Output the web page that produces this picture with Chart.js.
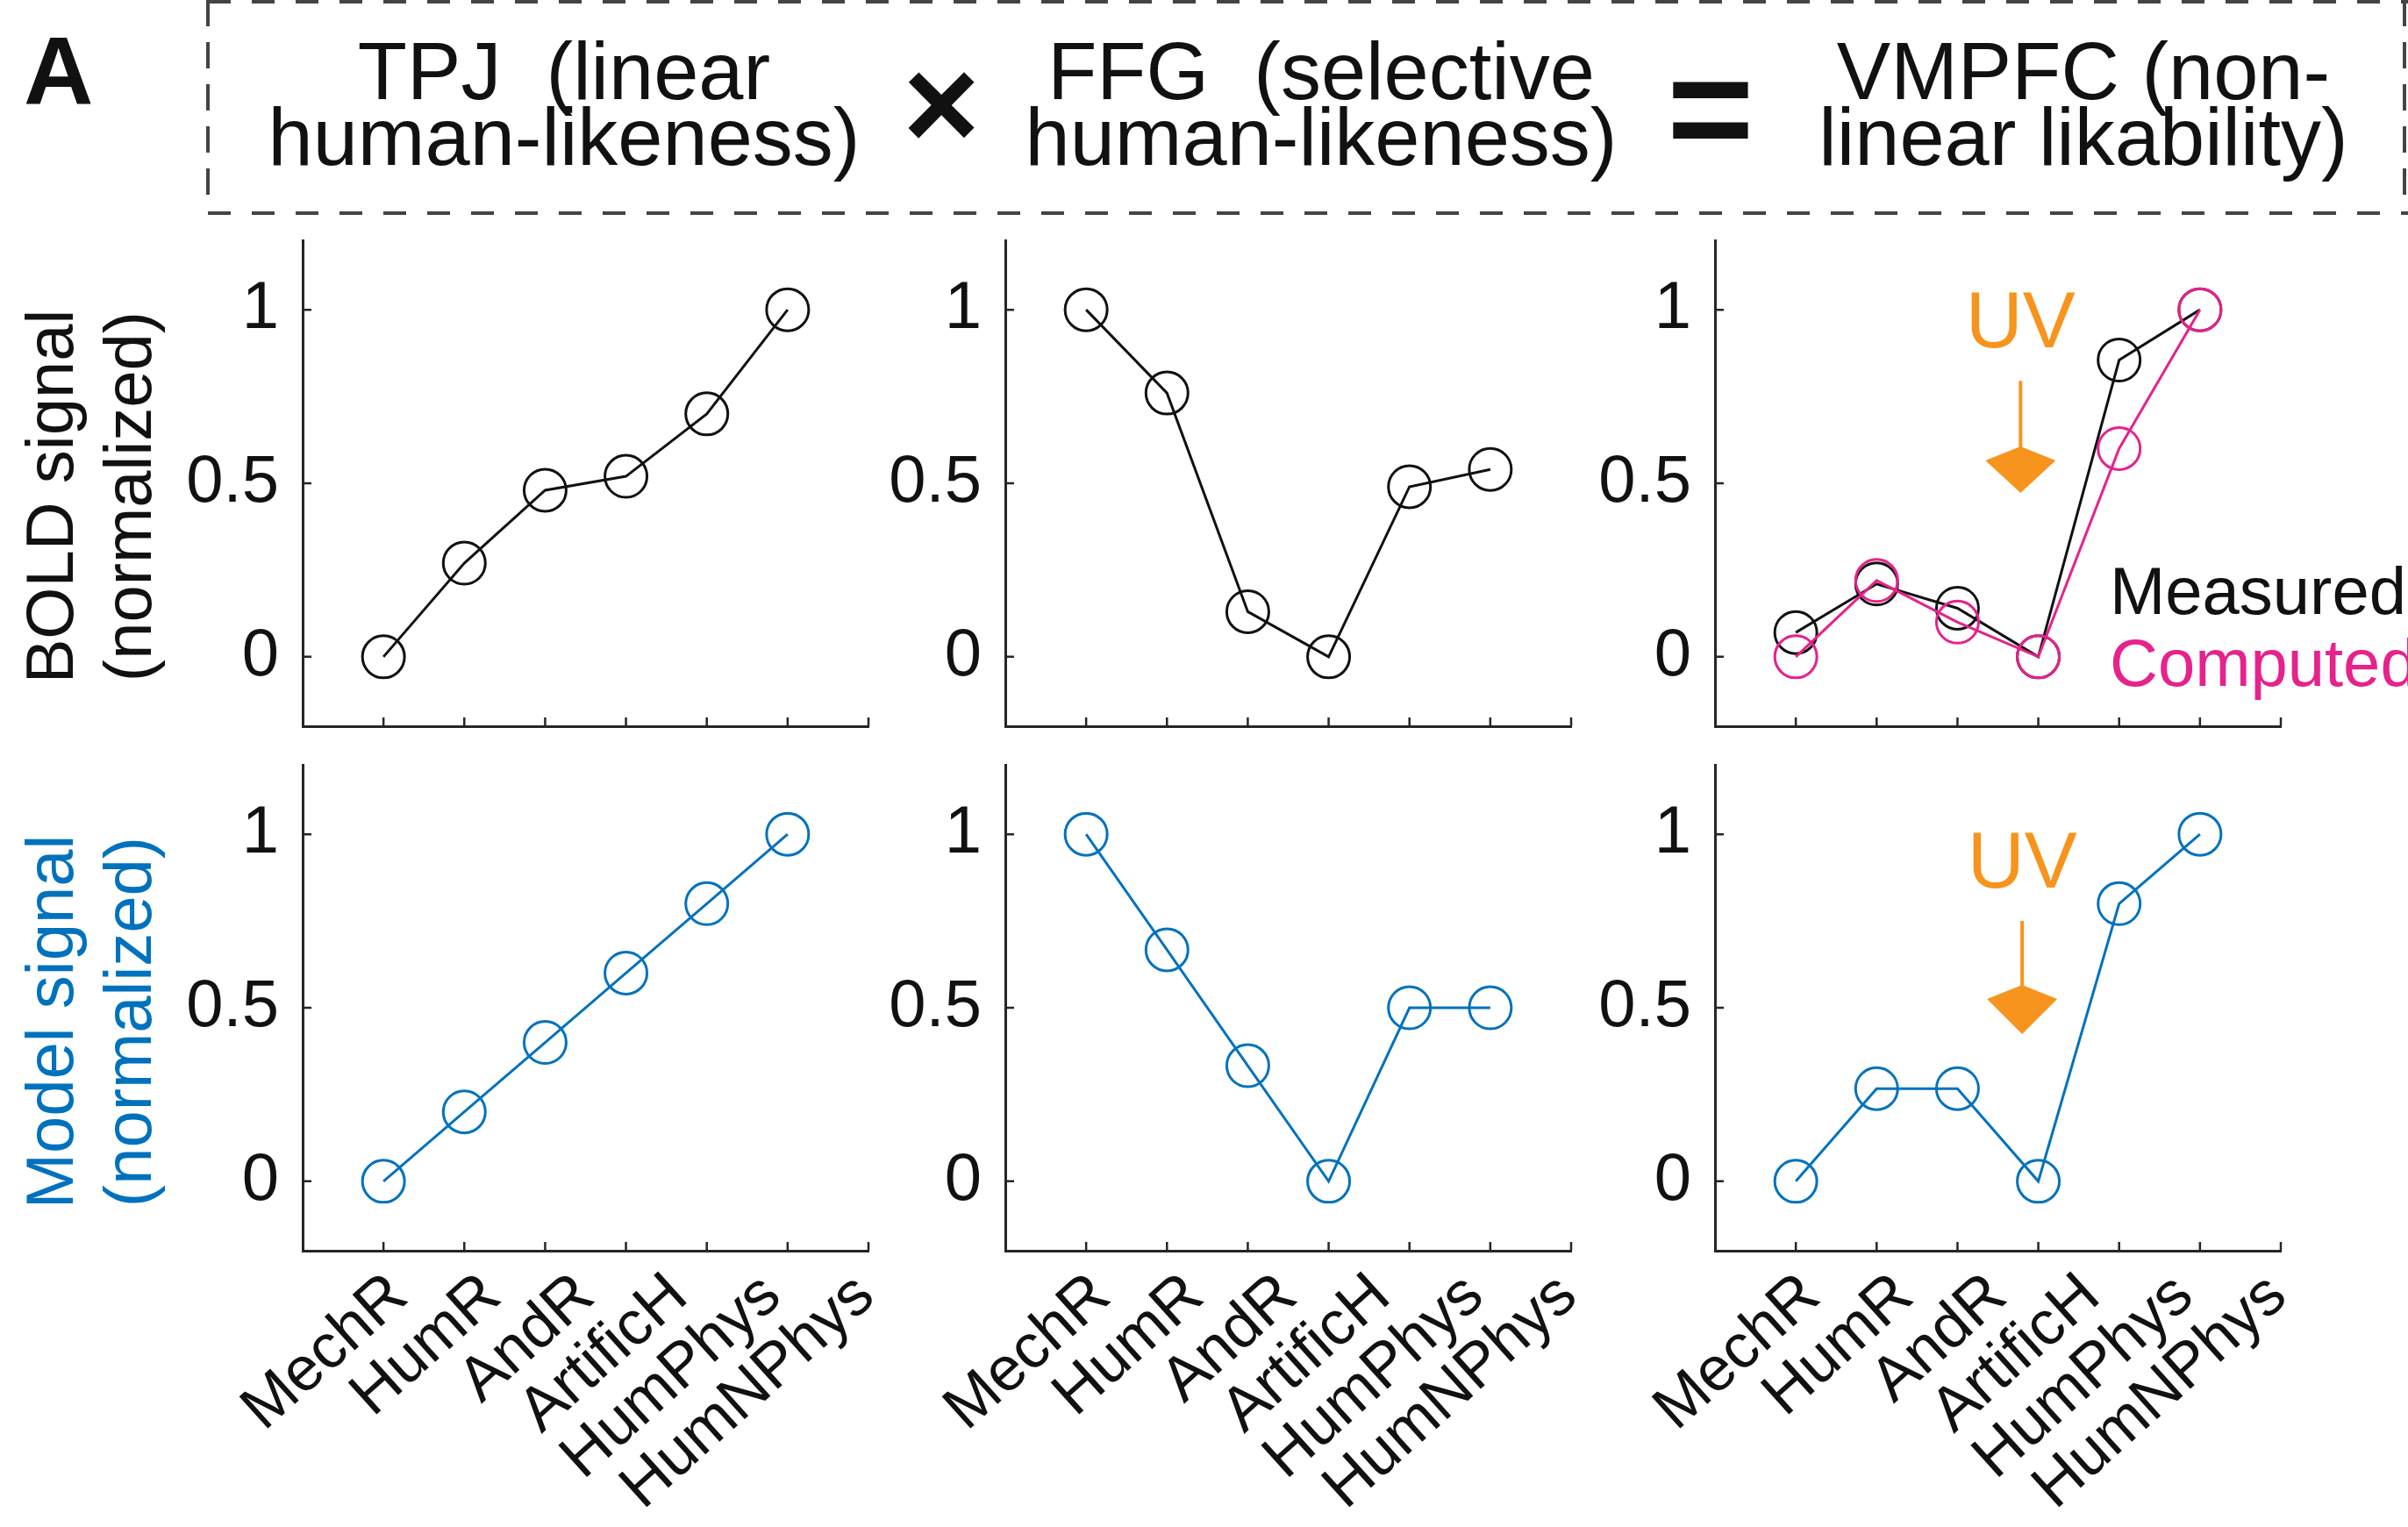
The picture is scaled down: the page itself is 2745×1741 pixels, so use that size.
<!DOCTYPE html>
<html>
<head>
<meta charset="utf-8">
<script src="https://cdn.jsdelivr.net/npm/chart.js@4.4.0/dist/chart.umd.min.js"></script>
<style>
  body { margin: 0; width: 2745px; height: 1741px; background: #fff; overflow: hidden; position: relative;
         font-family: "Liberation Sans", Arial, sans-serif; color: #111; }
  .abs { position: absolute; white-space: pre; line-height: 1; }
  .hd { font-size: 92px; text-align: center; width: 1000px; }
  canvas { position: absolute; }
</style>
</head>
<body>
<svg width="2745" height="1741" style="position:absolute;left:0;top:0">
  <g stroke="#444" stroke-width="4" fill="none">
    <line x1="237" y1="2" x2="2745" y2="2" stroke-dasharray="26 24"/>
    <line x1="237" y1="243" x2="2745" y2="243" stroke-dasharray="26 24"/>
    <line x1="237" y1="0" x2="237" y2="240" stroke-dasharray="30 18"/>
    <line x1="2741" y1="0" x2="2741" y2="240" stroke-dasharray="30 18"/>
  </g>
</svg>

<div class="abs" style="left:27px;top:25px;font-size:110px;font-weight:bold;">A</div>

<div class="abs hd" style="left:143px;top:35px;">TPJ  (linear</div>
<div class="abs hd" style="left:143px;top:110px;">human-likeness)</div>
<div class="abs" style="left:973px;width:200px;text-align:center;top:43px;font-size:150px;font-weight:bold;">×</div>
<div class="abs hd" style="left:1006px;top:35px;">FFG  (selective</div>
<div class="abs hd" style="left:1006px;top:110px;">human-likeness)</div>
<div class="abs" style="left:1850px;width:200px;text-align:center;top:38px;font-size:170px;font-weight:bold;">=</div>
<div class="abs hd" style="left:1875px;top:35px;">VMPFC (non-</div>
<div class="abs hd" style="left:1875px;top:110px;">linear likability)</div>

<div class="abs" style="left:2405px;top:636px;font-size:76px;color:#111;">Measured</div>
<div class="abs" style="left:2405px;top:718px;font-size:76px;color:#E6228C;">Computed</div>

<script>
// categories on the x axis
const categories = ['MechR', 'HumR', 'AndR', 'ArtificH', 'HumPhys', 'HumNPhys'];
const yTickValues = [0, 0.5, 1];

// top row: measured BOLD signal (normalized)
const tpjBold = [0, 0.27, 0.48, 0.52, 0.70, 1.0];
const ffgBold = [1.0, 0.76, 0.13, 0, 0.49, 0.54];
const vmpfcMeasured = [0.07, 0.21, 0.14, 0, 0.855, 1.0];
const vmpfcComputed = [0, 0.22, 0.10, 0, 0.60, 1.0];

// bottom row: model signal (normalized)
const tpjModel = [0, 0.2, 0.4, 0.6, 0.8, 1.0];
const ffgModel = [1.0, 0.667, 0.333, 0, 0.5, 0.5];
const vmpfcModel = [0, 0.267, 0.267, 0, 0.8, 1.0];

const uvLabel = 'UV';

const FONT = '"Liberation Sans", Arial, sans-serif';
const BLACK = '#111111';
const BLUE = '#0072BD';
const PINK = '#E6228C';
const ORANGE = '#F7941D';
const AXIS = '#262626';

// panel geometry
const cols = [
    { axisLeft: 345, yw: 345 },
    { axisLeft: 1146, yw: 150 },
    { axisLeft: 1955, yw: 150 }
];
const rows = [
    { top: 274, xh: 80 },
    { top: 872, xh: 315 }
];
const areaW = 645, areaH = 554, padTop = 80, padRight = 30;

// small inward tick marks like the matlab axes
const tickMarks = {
    id: 'tickMarks',
    afterDraw(chart) {
        const { ctx, chartArea, scales: { x, y } } = chart;
        ctx.save();
        ctx.strokeStyle = AXIS;
        ctx.lineWidth = 2.5;
        ctx.beginPath();
        yTickValues.forEach(v => {
            const py = y.getPixelForValue(v);
            ctx.moveTo(chartArea.left, py);
            ctx.lineTo(chartArea.left + 10, py);
        });
        for (let i = 1; i <= categories.length + 1; i++) {
            const px = x.getPixelForValue(i);
            ctx.moveTo(px, chartArea.bottom);
            ctx.lineTo(px, chartArea.bottom - 10);
        }
        ctx.stroke();
        ctx.restore();
    }
};

// slanted category labels, ends fanned out a little like the original figure
const slantLabels = {
    id: 'slantLabels',
    afterDraw(chart, args, o) {
        const { ctx, chartArea, scales: { x } } = chart;
        const first = x.getPixelForValue(1);
        ctx.save();
        ctx.fillStyle = BLACK;
        ctx.font = `${o.size}px ${FONT}`;
        ctx.textAlign = 'right';
        ctx.textBaseline = 'alphabetic';
        categories.forEach((name, i) => {
            const px = x.getPixelForValue(i + 1);
            ctx.save();
            ctx.translate(px + o.base + (px - first) * o.spread, chartArea.bottom + o.drop);
            ctx.rotate(-o.angle * Math.PI / 180);
            ctx.fillText(name, 0, 0);
            ctx.restore();
        });
        ctx.restore();
    }
};

// "UV" label with the orange arrow
const uvArrow = {
    id: 'uvArrow',
    afterDatasetsDraw(chart, args, o) {
        const { ctx, scales: { x, y } } = chart;
        const px = x.getPixelForValue(o.x);
        const yText = y.getPixelForValue(o.textY);
        const yLine = y.getPixelForValue(o.lineTop);
        const yHead = y.getPixelForValue(o.headTop);
        const yTip = y.getPixelForValue(o.tip);
        ctx.save();
        ctx.fillStyle = ORANGE;
        ctx.strokeStyle = ORANGE;
        ctx.font = `90px ${FONT}`;
        ctx.textAlign = 'center';
        ctx.textBaseline = 'middle';
        ctx.fillText(uvLabel, px, yText);
        ctx.lineWidth = 4;
        ctx.beginPath();
        ctx.moveTo(px, yLine);
        ctx.lineTo(px, yHead + 10);
        ctx.stroke();
        ctx.beginPath();
        ctx.moveTo(px - 40, yHead + 16);
        ctx.lineTo(px, yHead);
        ctx.lineTo(px + 40, yHead + 16);
        ctx.lineTo(px, yTip);
        ctx.closePath();
        ctx.fill();
        ctx.restore();
    }
};

// rotated two-line y title at the left of the first column
const sideTitle = {
    id: 'sideTitle',
    afterDraw(chart, args, o) {
        const { ctx, chartArea } = chart;
        const cy = (chartArea.top + chartArea.bottom) / 2 + o.shift;
        ctx.save();
        ctx.fillStyle = o.color;
        ctx.font = `76px ${FONT}`;
        ctx.textAlign = 'center';
        ctx.textBaseline = 'alphabetic';
        o.lines.forEach((t, i) => {
            ctx.save();
            ctx.translate(o.baselines[i], cy);
            ctx.rotate(-Math.PI / 2);
            ctx.fillText(t, 0, 0);
            ctx.restore();
        });
        ctx.restore();
    }
};

function makePanel(col, row, series, extra) {
    const c = cols[col], r = rows[row];
    const canvas = document.createElement('canvas');
    canvas.width = c.yw + areaW + padRight;
    canvas.height = padTop + areaH + r.xh;
    canvas.style.left = (c.axisLeft - c.yw) + 'px';
    canvas.style.top = (r.top - padTop) + 'px';
    document.body.appendChild(canvas);

    const plugins = [tickMarks];
    const pluginOpts = { legend: { display: false }, tooltip: { enabled: false } };
    if (row === 1) {
        plugins.push(slantLabels);
        pluginOpts.slantLabels = { base: 31, spread: 0.154, drop: 56, angle: 42, size: 71 };
    }
    if (extra.uv) { plugins.push(uvArrow); pluginOpts.uvArrow = extra.uv; }
    if (extra.title) { plugins.push(sideTitle); pluginOpts.sideTitle = extra.title; }

    new Chart(canvas, {
        type: 'line',
        data: {
            datasets: series.map(s => ({
                data: s.values.map((v, i) => ({ x: i + 1, y: v })),
                borderColor: s.color,
                borderWidth: 3,
                pointRadius: 24,
                pointBorderWidth: 3,
                pointBorderColor: s.color,
                pointBackgroundColor: 'rgba(0,0,0,0)',
                tension: 0,
                clip: false
            }))
        },
        options: {
            responsive: false,
            animation: false,
            devicePixelRatio: 1,
            layout: { padding: { top: padTop, right: padRight, left: 0, bottom: 0 } },
            plugins: pluginOpts,
            scales: {
                x: {
                    type: 'linear',
                    min: 0,
                    max: categories.length + 1,
                    grid: { display: false, drawTicks: false },
                    border: { display: true, color: AXIS, width: 3 },
                    afterBuildTicks: s => { s.ticks = categories.map((_, i) => ({ value: i + 1 })); },
                    afterFit: s => { s.height = r.xh; },
                    ticks: { display: false }
                },
                y: {
                    min: -0.2,
                    max: 1.2,
                    grid: { display: false, drawTicks: false },
                    border: { display: true, color: AXIS, width: 3 },
                    afterBuildTicks: s => { s.ticks = yTickValues.map(v => ({ value: v })); },
                    afterFit: s => { s.width = c.yw; },
                    ticks: {
                        padding: 27,
                        color: BLACK,
                        font: { family: FONT, size: 76 },
                        callback: v => String(v)
                    }
                }
            }
        },
        plugins: plugins
    });
}

// top row
makePanel(0, 0, [{ values: tpjBold, color: BLACK }], {
    title: { lines: ['BOLD signal', '(normalized)'], baselines: [83, 172], shift: 15, color: BLACK }
});
makePanel(1, 0, [{ values: ffgBold, color: BLACK }], {});
makePanel(2, 0, [
    { values: vmpfcComputed, color: PINK },
    { values: vmpfcMeasured, color: BLACK }
], { uv: { x: 3.78, textY: 0.955, lineTop: 0.795, headTop: 0.606, tip: 0.472 } });

// bottom row
makePanel(0, 1, [{ values: tpjModel, color: BLUE }], {
    title: { lines: ['Model signal', '(normalized)'], baselines: [83, 172], shift: 16, color: BLUE }
});
makePanel(1, 1, [{ values: ffgModel, color: BLUE }], {});
makePanel(2, 1, [{ values: vmpfcModel, color: BLUE }], {
    uv: { x: 3.8, textY: 0.91, lineTop: 0.75, headTop: 0.566, tip: 0.424 }
});
</script>
</body>
</html>
